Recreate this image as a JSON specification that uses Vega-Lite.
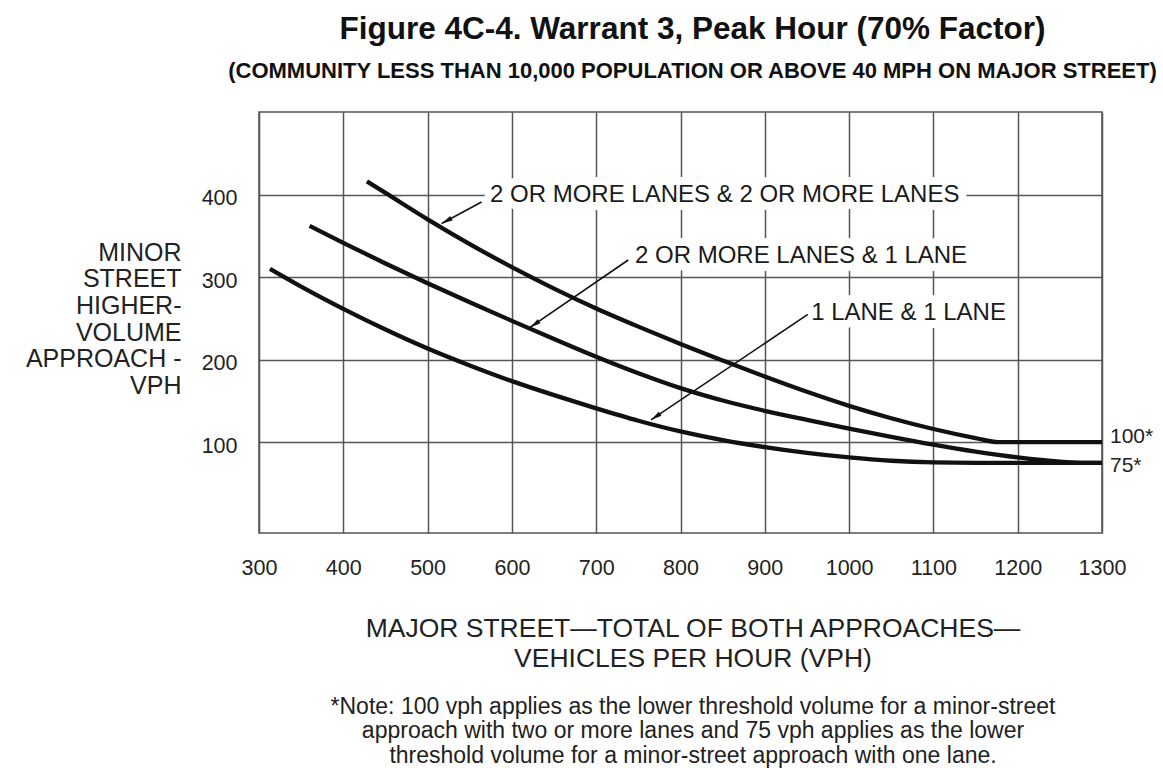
{
  "$schema": "https://vega.github.io/schema/vega-lite/v6.json",
  "width": 843,
  "height": 421,
  "autosize": {"type": "none"},
  "padding": {"left": 259, "top": 112, "right": 61, "bottom": 235},
  "background": "white",
  "config": {"view": {"stroke": "#555", "strokeWidth": 1.5}, "font": "Liberation Sans"},
  "title": {
    "text": "Figure 4C-4.  Warrant 3, Peak Hour (70% Factor)",
    "subtitle": "(COMMUNITY LESS THAN 10,000 POPULATION OR ABOVE 40 MPH ON MAJOR STREET)",
    "anchor": "middle",
    "dx": 12,
    "font": "Liberation Sans",
    "fontSize": 31.5,
    "fontWeight": "bold",
    "color": "#111",
    "subtitleFont": "Liberation Sans",
    "subtitleFontSize": 22,
    "subtitleFontWeight": "bold",
    "subtitleColor": "#111",
    "subtitlePadding": 16,
    "offset": 30
  },
  "datasets": {
    "curves": [
      {"series": "2 or more & 2 or more", "major": 428, "minor": 416},
      {"series": "2 or more & 2 or more", "major": 450, "minor": 402},
      {"series": "2 or more & 2 or more", "major": 500, "minor": 370},
      {"series": "2 or more & 2 or more", "major": 550, "minor": 340},
      {"series": "2 or more & 2 or more", "major": 600, "minor": 312},
      {"series": "2 or more & 2 or more", "major": 650, "minor": 286},
      {"series": "2 or more & 2 or more", "major": 700, "minor": 262},
      {"series": "2 or more & 2 or more", "major": 750, "minor": 240},
      {"series": "2 or more & 2 or more", "major": 800, "minor": 219},
      {"series": "2 or more & 2 or more", "major": 850, "minor": 199},
      {"series": "2 or more & 2 or more", "major": 900, "minor": 179.5},
      {"series": "2 or more & 2 or more", "major": 950, "minor": 161},
      {"series": "2 or more & 2 or more", "major": 1000, "minor": 144},
      {"series": "2 or more & 2 or more", "major": 1050, "minor": 129},
      {"series": "2 or more & 2 or more", "major": 1100, "minor": 116},
      {"series": "2 or more & 2 or more", "major": 1150, "minor": 105},
      {"series": "2 or more & 2 or more", "major": 1177, "minor": 100},
      {"series": "2 or more & 2 or more", "major": 1300, "minor": 100},
      {"series": "2 or more & 1", "major": 360, "minor": 362},
      {"series": "2 or more & 1", "major": 400, "minor": 341.5},
      {"series": "2 or more & 1", "major": 450, "minor": 316.5},
      {"series": "2 or more & 1", "major": 500, "minor": 292.5},
      {"series": "2 or more & 1", "major": 550, "minor": 269.5},
      {"series": "2 or more & 1", "major": 600, "minor": 247},
      {"series": "2 or more & 1", "major": 650, "minor": 225},
      {"series": "2 or more & 1", "major": 700, "minor": 203.5},
      {"series": "2 or more & 1", "major": 750, "minor": 183.5},
      {"series": "2 or more & 1", "major": 800, "minor": 165.5},
      {"series": "2 or more & 1", "major": 850, "minor": 150.5},
      {"series": "2 or more & 1", "major": 900, "minor": 138},
      {"series": "2 or more & 1", "major": 950, "minor": 127},
      {"series": "2 or more & 1", "major": 1000, "minor": 116.5},
      {"series": "2 or more & 1", "major": 1050, "minor": 106.5},
      {"series": "2 or more & 1", "major": 1100, "minor": 97},
      {"series": "2 or more & 1", "major": 1150, "minor": 88.5},
      {"series": "2 or more & 1", "major": 1200, "minor": 81.5},
      {"series": "2 or more & 1", "major": 1250, "minor": 76.5},
      {"series": "2 or more & 1", "major": 1280, "minor": 75},
      {"series": "2 or more & 1", "major": 1300, "minor": 75},
      {"series": "1 & 1", "major": 313, "minor": 310},
      {"series": "1 & 1", "major": 350, "minor": 288.5},
      {"series": "1 & 1", "major": 400, "minor": 261.5},
      {"series": "1 & 1", "major": 450, "minor": 236.5},
      {"series": "1 & 1", "major": 500, "minor": 213.5},
      {"series": "1 & 1", "major": 550, "minor": 193},
      {"series": "1 & 1", "major": 600, "minor": 174},
      {"series": "1 & 1", "major": 650, "minor": 157},
      {"series": "1 & 1", "major": 700, "minor": 141},
      {"series": "1 & 1", "major": 750, "minor": 126},
      {"series": "1 & 1", "major": 800, "minor": 113},
      {"series": "1 & 1", "major": 850, "minor": 102.5},
      {"series": "1 & 1", "major": 900, "minor": 94},
      {"series": "1 & 1", "major": 950, "minor": 87},
      {"series": "1 & 1", "major": 1000, "minor": 81.5},
      {"series": "1 & 1", "major": 1050, "minor": 77.5},
      {"series": "1 & 1", "major": 1100, "minor": 75.5},
      {"series": "1 & 1", "major": 1150, "minor": 75},
      {"series": "1 & 1", "major": 1300, "minor": 75}
    ],
    "labels": [
      {"label": "a", "text": "2 OR MORE LANES & 2 OR MORE LANES", "major": 574, "minor": 400},
      {"label": "b", "text": "2 OR MORE LANES & 1 LANE", "major": 746, "minor": 326},
      {"label": "c", "text": "1 LANE & 1 LANE", "major": 955, "minor": 256}
    ],
    "leaders": [
      {"label": "a", "x_from": 564, "y_from": 391, "x_to": 516.7, "y_to": 365},
      {"label": "b", "x_from": 738, "y_from": 320.7, "x_to": 621.5, "y_to": 239},
      {"label": "c", "x_from": 951, "y_from": 254.8, "x_to": 765, "y_to": 127}
    ],
    "floors": [
      {"major": 1300, "minor": 100, "text": "100*"},
      {"major": 1300, "minor": 75, "text": "75*"}
    ]
  },
  "resolve": {"scale": {"x": "independent", "y": "independent"}},
  "layer": [
    {
      "data": {"name": "curves"},
      "mark": {"type": "line", "color": "#111", "strokeWidth": 4.3, "interpolate": "monotone", "strokeCap": "butt"},
      "encoding": {
        "x": {
          "field": "major", "type": "quantitative",
          "scale": {"domain": [300, 1300], "nice": false, "zero": false},
          "axis": {
            "orient": "bottom", "format": "d",
            "values": [300, 400, 500, 600, 700, 800, 900, 1000, 1100, 1200, 1300],
            "grid": true, "gridColor": "#555", "gridWidth": 1.5, "gridOpacity": 1,
            "domain": false, "ticks": false, "labelFlush": false, "labelOverlap": false,
            "labelFontSize": 21.5, "labelPadding": 24, "labelColor": "#222", "labelFont": "Liberation Sans",
            "title": ["MAJOR STREET\u2014TOTAL OF BOTH APPROACHES\u2014", "VEHICLES PER HOUR (VPH)"],
            "titleFont": "Liberation Sans", "titleFontSize": 26.5, "titleFontWeight": "normal", "titleLineHeight": 30,
            "titlePadding": 37, "titleX": 433.5, "titleColor": "#222"
          }
        },
        "y": {
          "field": "minor", "type": "quantitative",
          "scale": {"domain": [-10, 500], "nice": false, "zero": false},
          "axis": {
            "orient": "left", "format": "d",
            "values": [100, 200, 300, 400],
            "grid": true, "gridColor": "#555", "gridWidth": 1.5, "gridOpacity": 1,
            "domain": false, "ticks": false, "labelFlush": false, "labelOverlap": false,
            "labelFontSize": 21.5, "labelPadding": 22, "labelOffset": 4, "labelColor": "#222", "labelFont": "Liberation Sans",
            "title": ["MINOR", "STREET", "HIGHER-", "VOLUME", "APPROACH -", "VPH"],
            "titleAngle": 0, "titleAlign": "right", "titleBaseline": "top", "titleX": -78, "titleY": 128,
            "titleFont": "Liberation Sans", "titleFontSize": 25, "titleFontWeight": "normal", "titleLineHeight": 26.7, "titleColor": "#222"
          }
        },
        "detail": {"field": "series"}
      }
    },
    {
      "data": {"name": "labels"},
      "mark": {"type": "text", "align": "left", "baseline": "middle", "fontSize": 24, "fill": "white", "stroke": "white", "strokeWidth": 16, "strokeJoin": "round"},
      "encoding": {
        "x": {"field": "major", "type": "quantitative", "scale": {"domain": [300, 1300], "nice": false, "zero": false}, "axis": null},
        "y": {"field": "minor", "type": "quantitative", "scale": {"domain": [-10, 500], "nice": false, "zero": false}, "axis": null},
        "text": {"field": "text"}
      }
    },
    {
      "data": {"name": "labels"},
      "mark": {"type": "text", "align": "left", "baseline": "middle", "fontSize": 24, "fill": "#1a1a1a"},
      "encoding": {
        "x": {"field": "major", "type": "quantitative", "scale": {"domain": [300, 1300], "nice": false, "zero": false}, "axis": null},
        "y": {"field": "minor", "type": "quantitative", "scale": {"domain": [-10, 500], "nice": false, "zero": false}, "axis": null},
        "text": {"field": "text"}
      }
    },
    {
      "data": {"name": "leaders"},
      "mark": {"type": "rule", "color": "#111", "strokeWidth": 1.6},
      "encoding": {
        "x": {"field": "x_from", "type": "quantitative", "scale": {"domain": [300, 1300], "nice": false, "zero": false}, "axis": null},
        "y": {"field": "y_from", "type": "quantitative", "scale": {"domain": [-10, 500], "nice": false, "zero": false}, "axis": null},
        "x2": {"field": "x_to"},
        "y2": {"field": "y_to"}
      }
    },
    {
      "data": {"name": "leaders"},
      "transform": [{"filter": "datum.label == 'a'"}],
      "mark": {"type": "point", "shape": "M0,0L-0.36,1.6L0.36,1.6Z", "size": 190, "filled": true, "color": "#111", "opacity": 1, "angle": -118.2},
      "encoding": {
        "x": {"field": "x_to", "type": "quantitative", "scale": {"domain": [300, 1300], "nice": false, "zero": false}, "axis": null},
        "y": {"field": "y_to", "type": "quantitative", "scale": {"domain": [-10, 500], "nice": false, "zero": false}, "axis": null}
      }
    },
    {
      "data": {"name": "leaders"},
      "transform": [{"filter": "datum.label == 'b'"}],
      "mark": {"type": "point", "shape": "M0,0L-0.36,1.6L0.36,1.6Z", "size": 190, "filled": true, "color": "#111", "opacity": 1, "angle": -124.5},
      "encoding": {
        "x": {"field": "x_to", "type": "quantitative", "scale": {"domain": [300, 1300], "nice": false, "zero": false}, "axis": null},
        "y": {"field": "y_to", "type": "quantitative", "scale": {"domain": [-10, 500], "nice": false, "zero": false}, "axis": null}
      }
    },
    {
      "data": {"name": "leaders"},
      "transform": [{"filter": "datum.label == 'c'"}],
      "mark": {"type": "point", "shape": "M0,0L-0.36,1.6L0.36,1.6Z", "size": 190, "filled": true, "color": "#111", "opacity": 1, "angle": -123.9},
      "encoding": {
        "x": {"field": "x_to", "type": "quantitative", "scale": {"domain": [300, 1300], "nice": false, "zero": false}, "axis": null},
        "y": {"field": "y_to", "type": "quantitative", "scale": {"domain": [-10, 500], "nice": false, "zero": false}, "axis": null}
      }
    },
    {
      "data": {"name": "floors"},
      "transform": [{"filter": "datum.minor == 75"}],
      "mark": {"type": "text", "align": "left", "baseline": "middle", "dx": 8, "dy": 3, "fontSize": 21, "fill": "#222"},
      "encoding": {
        "x": {"field": "major", "type": "quantitative", "scale": {"domain": [300, 1300], "nice": false, "zero": false}, "axis": null},
        "y": {"field": "minor", "type": "quantitative", "scale": {"domain": [-10, 500], "nice": false, "zero": false}, "axis": null},
        "text": {"field": "text"}
      }
    },
    {
      "data": {"name": "floors"},
      "transform": [{"filter": "datum.minor == 100"}],
      "mark": {"type": "text", "align": "left", "baseline": "middle", "dx": 8, "dy": -5, "fontSize": 21, "fill": "#222"},
      "encoding": {
        "x": {
          "field": "major", "type": "quantitative",
          "scale": {"domain": [300, 1300], "nice": false, "zero": false},
          "axis": {
            "orient": "bottom", "labels": false, "ticks": false, "domain": false, "grid": false,
            "title": ["*Note: 100 vph applies as the lower threshold volume for a minor-street", "approach with two or more lanes and 75 vph applies as the lower", "threshold volume for a minor-street approach with one lane."],
            "titleFont": "Liberation Sans", "titleFontSize": 23, "titleFontWeight": "normal", "titleLineHeight": 24.5,
            "titlePadding": 162, "titleX": 433.5, "titleColor": "#222"
          }
        },
        "y": {"field": "minor", "type": "quantitative", "scale": {"domain": [-10, 500], "nice": false, "zero": false}, "axis": null},
        "text": {"field": "text"}
      }
    }
  ]
}
